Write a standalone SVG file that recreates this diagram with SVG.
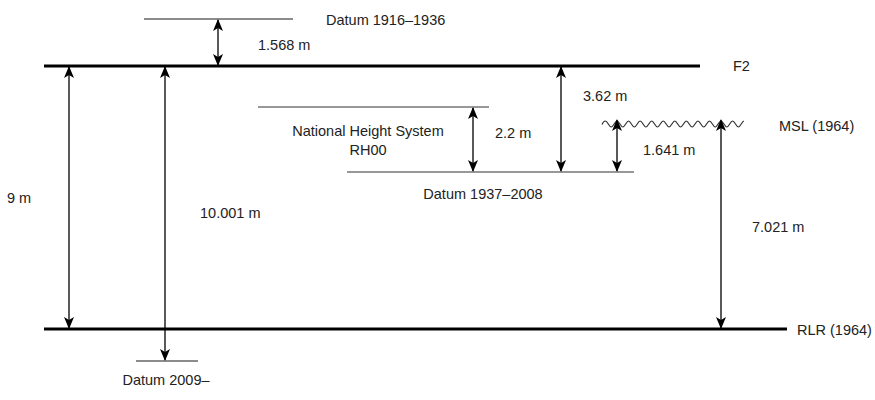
<svg xmlns="http://www.w3.org/2000/svg" width="875" height="400" viewBox="0 0 875 400">
<style>
text{font-family:"Liberation Sans",Arial,sans-serif;font-size:14.5px;fill:#222}
.main{stroke:#000;stroke-width:3;fill:none}
.datum{stroke:#666;stroke-width:1.5;fill:none}
.datum2{stroke:#333;stroke-width:1.2;fill:none}
.dbl{stroke:#000;stroke-width:1.3;fill:none;marker-start:url(#ahs);marker-end:url(#ah)}
.wave{stroke:#333;stroke-width:1.2;fill:none}
</style>
<defs>
<marker id="ah" viewBox="0 0 12 10" refX="11" refY="5" markerWidth="12" markerHeight="10" markerUnits="userSpaceOnUse" orient="auto">
<path d="M0,0 L12,5 L0,10 L3,5 z" fill="#000"/>
</marker>
<marker id="ahs" viewBox="0 0 12 10" refX="1" refY="5" markerWidth="12" markerHeight="10" markerUnits="userSpaceOnUse" orient="auto">
<path d="M12,0 L0,5 L12,10 L9,5 z" fill="#000"/>
</marker>
</defs>
<g id="F2">
<line class="main" x1="44" y1="66" x2="700" y2="66"/>
<text x="733" y="71">F2</text>
</g>
<g id="RLR">
<line class="main" x1="44" y1="329" x2="787" y2="329"/>
<text x="797" y="335">RLR (1964)</text>
</g>
<g id="datum1916">
<line class="datum" x1="144" y1="19" x2="293" y2="19"/>
<text x="326" y="25">Datum 1916–1936</text>
</g>
<g id="rh00">
<line class="datum2" x1="258" y1="107" x2="489" y2="107"/>
<text x="368" y="136" text-anchor="middle">National Height System</text>
<text x="368" y="155" text-anchor="middle">RH00</text>
</g>
<g id="datum1937">
<line class="datum2" x1="347" y1="172" x2="634" y2="172"/>
<text x="483" y="199" text-anchor="middle">Datum 1937–2008</text>
</g>
<g id="msl">
<path class="wave" d="M602,124.5 Q603.5,121 605.44,121 C607.5,121 609.1,127 611.22,127 S614.9,121 617,121 S620.7,127 622.78,127 S626.5,121 628.56,121 S632.2,127 634.34,127 S638,121 640.12,121 S643.8,127 645.9,127 S649.6,121 651.68,121 S655.4,127 657.46,127 S661.1,121 663.24,121 S666.9,127 669.02,127 S672.7,121 674.8,121 S678.5,127 680.58,127 S684.3,121 686.36,121 S690,127 692.14,127 S695.8,121 697.92,121 S701.6,127 703.7,127 S707.4,121 709.48,121 S713.2,127 715.26,127 S718.9,121 721.04,121 S724.7,127 726.82,127 S730.5,121 732.6,121 S736.3,127 738.38,127 S742,121 744,121"/>
<text x="779" y="131">MSL (1964)</text>
</g>
<g id="datum2009">
<line class="datum" x1="136" y1="361" x2="198" y2="361"/>
<text x="166" y="385" text-anchor="middle">Datum 2009–</text>
</g>
<g id="connectors">
<line class="dbl" x1="218" y1="20" x2="218" y2="65"/>
<line class="dbl" x1="69" y1="67" x2="69" y2="328"/>
<line class="dbl" x1="165" y1="67" x2="165" y2="360"/>
<line class="dbl" x1="473" y1="108" x2="473" y2="171"/>
<line class="dbl" x1="561" y1="67" x2="561" y2="171"/>
<line class="dbl" x1="617" y1="120" x2="617" y2="171"/>
<line class="dbl" x1="721" y1="120" x2="721" y2="328"/>
</g>
<g id="labels">
<text x="258" y="50">1.568 m</text>
<text x="583" y="101">3.62 m</text>
<text x="495" y="138">2.2 m</text>
<text x="643" y="155">1.641 m</text>
<text x="752" y="232">7.021 m</text>
<text x="7" y="203">9 m</text>
<text x="200" y="218">10.001 m</text>
</g>
</svg>
